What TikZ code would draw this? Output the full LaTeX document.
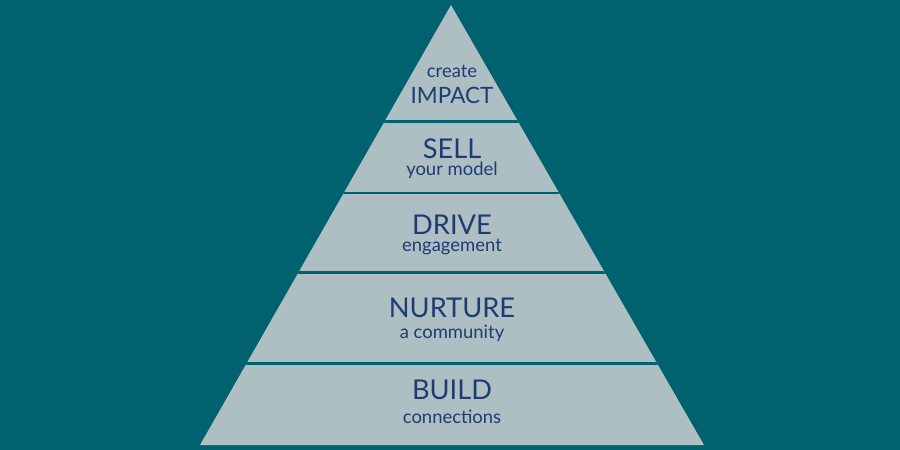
\documentclass[tikz,border=0pt]{standalone}
\usepackage{fontspec}
\setmainfont{Lato}
\usepackage{xcolor}
\usetikzlibrary{positioning}

\definecolor{teal}{HTML}{00616F}
\definecolor{stone}{HTML}{AEBFC3}
\definecolor{navy}{HTML}{1E3C72}

\begin{document}
\begin{tikzpicture}[
    x=0.02cm, y=-0.02cm,
    big/.style={text=navy, font=\fontsize{15.5}{16}\selectfont, inner sep=0pt, anchor=base},
    small/.style={text=navy, font=\fontsize{10.5}{11}\selectfont, inner sep=0pt, anchor=base},
    gap/.style={draw=teal, line width=1.7pt}
]

\fill[teal] (0,0) rectangle (900,450);
\useasboundingbox (0,0) rectangle (900,450);

% pyramid
\coordinate (apex) at (451,5);
\coordinate (bl) at (200,445);
\coordinate (br) at (704,445);
\fill[stone] (apex) -- (bl) -- (br) -- cycle;

% separators
\begin{scope}
\clip (apex) -- (bl) -- (br) -- cycle;
\foreach \y in {121.5,193,272.5,363.5}
    \draw[gap] (150,\y) -- (750,\y);
\end{scope}

% labels
\node[small] (create) at (452,77) {create};
\node[big, font=\fontsize{12.8}{13}\selectfont] (impact) at (452,103) {IMPACT};
\node[big] (sell) at (452,158) {SELL};
\node[small] (model) at (452,175) {your model};
\node[big] (drive) at (452,234) {DRIVE};
\node[small] (engage) at (452,251.5) {engagement};
\node[big] (nurture) at (452,317) {NURTURE};
\node[small] (community) at (452,338) {a community};
\node[big] (build) at (452,399) {BUILD};
\node[small] (connect) at (452,423) {connections};

\end{tikzpicture}
\end{document}
